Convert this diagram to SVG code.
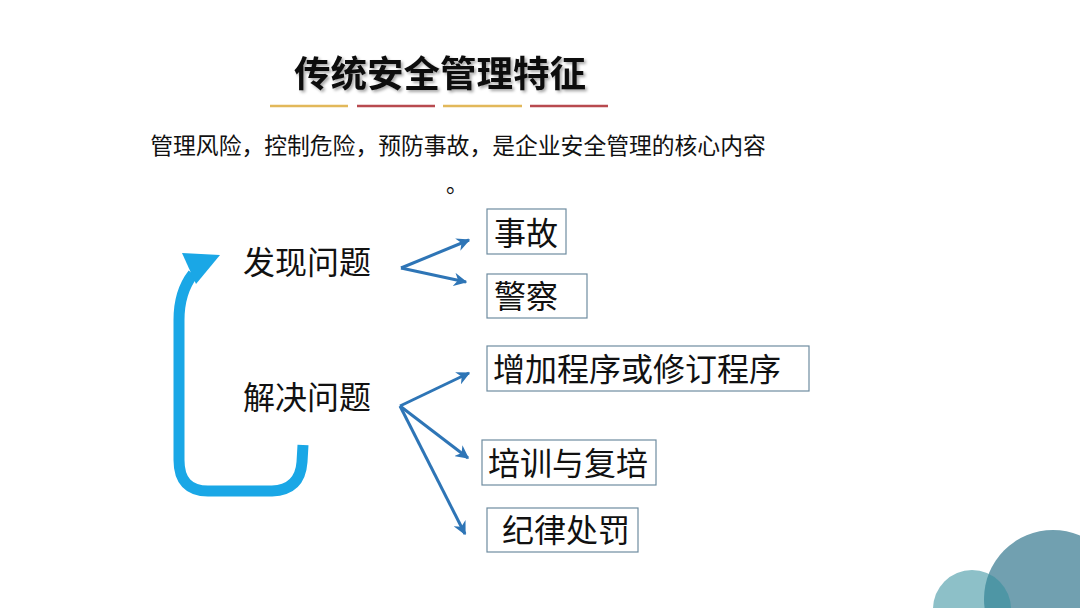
<svg xmlns="http://www.w3.org/2000/svg" width="1080" height="608" viewBox="0 0 1080 608">
<defs>
<style>
.cjk{font-family:"Noto Sans CJK SC","Noto Sans",sans-serif;fill:#111}
.box rect{fill:#fff;stroke:#6E8CA0;stroke-width:1.2}
.box text{font-size:32px}
.conn line{stroke:#2E75B6;stroke-width:3}
</style>
<marker id="ah" viewBox="0 0 10 10" refX="9" refY="5" markerWidth="4.5" markerHeight="4.5" orient="auto" markerUnits="strokeWidth">
<path d="M0,0 L10,5 L0,10 L3,5 Z" fill="#2E75B6"/>
</marker>
<filter id="sh" x="-5%" y="-20%" width="110%" height="150%">
<feDropShadow dx="2" dy="2" stdDeviation="1.5" flood-color="#000" flood-opacity="0.35"/>
</filter>
</defs>
<rect width="1080" height="608" fill="#fff"/>

<g id="title">
<text class="cjk" x="440" y="87" text-anchor="middle" font-size="36.5" font-weight="bold" filter="url(#sh)">传统安全管理特征</text>
<line x1="270" y1="106" x2="348" y2="106" stroke="#E2B85A" stroke-width="2.5"/>
<line x1="357" y1="106" x2="435" y2="106" stroke="#B84A4F" stroke-width="2.5"/>
<line x1="443" y1="106" x2="522" y2="106" stroke="#E2B85A" stroke-width="2.5"/>
<line x1="530" y1="106" x2="608" y2="106" stroke="#B84A4F" stroke-width="2.5"/>
</g>

<g id="subtitle">
<text class="cjk" x="458" y="154" text-anchor="middle" font-size="22.8" fill="#222">管理风险，控制危险，预防事故，是企业安全管理的核心内容</text>
<text class="cjk" x="446" y="192" font-size="22" fill="#222">。</text>
</g>

<g id="loop">
<path d="M303,445 L302,462 Q300,490 272,491 L208,491 Q179,491 179,460 L179,320 Q179,292 193,274" fill="none" stroke="#1AA7E6" stroke-width="11" stroke-linejoin="round"/>
<polygon points="182,253 220,255 196,284" fill="#1AA7E6"/>
</g>

<g id="n-discover"><text class="cjk" x="243" y="274" font-size="32">发现问题</text></g>
<g id="n-solve"><text class="cjk" x="243" y="409" font-size="32">解决问题</text></g>

<g id="n-accident" class="box"><rect x="487" y="209" width="79" height="45"/><text class="cjk" x="494" y="245">事故</text></g>
<g id="n-police" class="box"><rect x="487" y="274" width="100" height="44"/><text class="cjk" x="494" y="308">警察</text></g>
<g id="n-procedure" class="box"><rect x="487" y="346" width="322" height="45"/><text class="cjk" x="493" y="381">增加程序或修订程序</text></g>
<g id="n-training" class="box"><rect x="482" y="440" width="174" height="45"/><text class="cjk" x="488" y="475">培训与复培</text></g>
<g id="n-discipline" class="box"><rect x="487" y="508" width="151" height="44"/><text class="cjk" x="502" y="542">纪律处罚</text></g>

<g id="connectors" class="conn">
<line x1="401" y1="268" x2="469" y2="240" marker-end="url(#ah)"/>
<line x1="401" y1="268" x2="466" y2="282" marker-end="url(#ah)"/>
<line x1="400" y1="406" x2="469" y2="373" marker-end="url(#ah)"/>
<line x1="400" y1="406" x2="468" y2="458" marker-end="url(#ah)"/>
<line x1="400" y1="406" x2="465" y2="534" marker-end="url(#ah)"/>
</g>

<g id="decor">
<circle cx="1053" cy="599" r="69" fill="#71A0B0"/>
<circle cx="972" cy="609" r="39" fill="#348F9D" fill-opacity="0.56"/>
</g>
</svg>
